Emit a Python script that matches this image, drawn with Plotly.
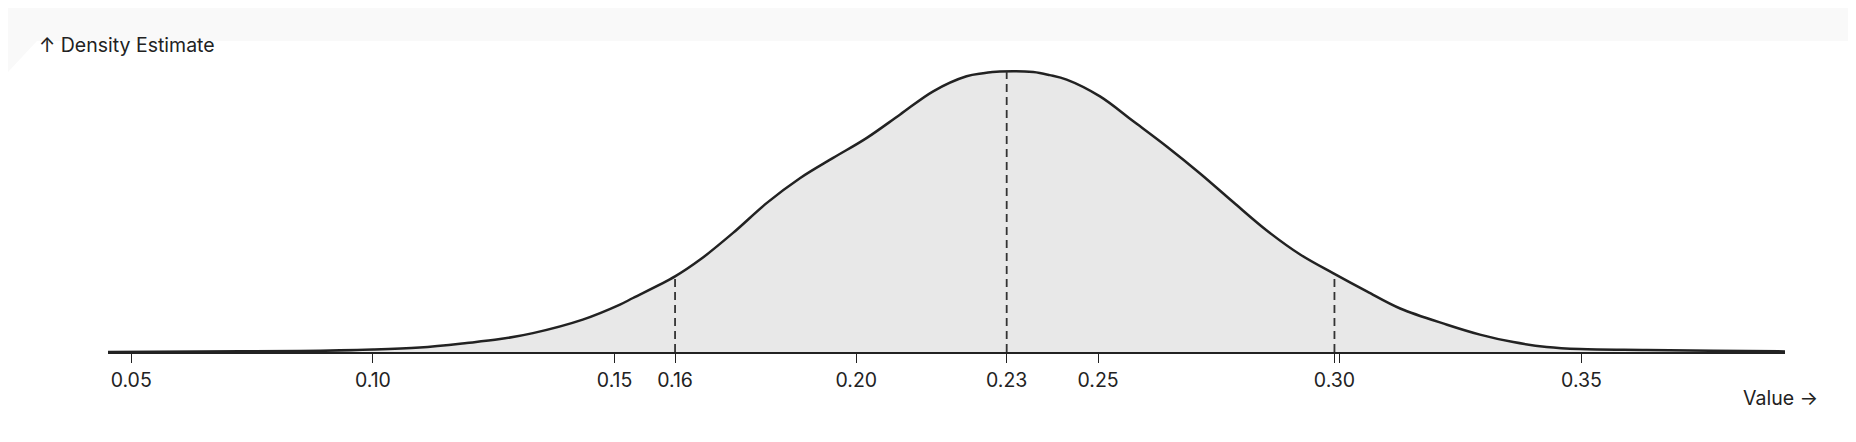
import numpy as np
import plotly.graph_objects as go

# ---- data ----
values = [0.0452, 0.0642, 0.0849, 0.1001, 0.1097, 0.1194, 0.1263, 0.1331, 0.1434, 0.1511,
          0.1538, 0.1625, 0.1677, 0.1745, 0.1815, 0.1884, 0.1952, 0.2021, 0.2090, 0.2159,
          0.2228, 0.2262, 0.2297, 0.2366, 0.2400, 0.2435, 0.2504, 0.2573, 0.2642, 0.2711,
          0.2780, 0.2849, 0.2918, 0.2987, 0.3056, 0.3125, 0.3222, 0.3290, 0.3359, 0.3428,
          0.3497, 0.3635, 0.3773, 0.3921]
density = [0.00, 0.02, 0.03, 0.08, 0.15, 0.30, 0.43, 0.63, 1.08, 1.58,
           1.80, 2.52, 3.08, 3.97, 4.97, 5.80, 6.47, 7.13, 7.91, 8.69,
           9.19, 9.29, 9.35, 9.33, 9.23, 9.08, 8.52, 7.69, 6.85, 5.95,
           4.99, 4.05, 3.25, 2.62, 2.02, 1.45, 0.91, 0.58, 0.33, 0.17,
           0.10, 0.07, 0.04, 0.02]
quantiles = [0.1625, 0.2311, 0.2989]
tick_values = [0.05, 0.10, 0.15, 0.20, 0.25, 0.30, 0.35]
tick_labels = ["0.05", "0.10", "0.15", "0.20", "0.25", "0.30", "0.35"]
y_label = "↑ Density Estimate"
x_label = "Value →"

# ---- layout geometry (page has an 8px body margin) ----
OFF = 8
W, H = 1856 - OFF, 442 - OFF
ML, MR, MT, MB = 100, 71, 52, 90
PW, PH = W - ML - MR, H - MT - MB
X_RANGE = [values[0], values[-1]]
Y_RANGE = [0, PH / 30.0]

def px_x(sx):
    return (sx - OFF - ML) / PW

def px_y(sy):
    return (H - MB - (sy - OFF)) / PH

INK = "#222222"
FONT = "Inter"

fig = go.Figure()

# area + line
fig.add_trace(go.Scatter(
    x=values, y=density, mode="lines",
    line=dict(color=INK, width=2.5, shape="spline", smoothing=1.0),
    fill="tozeroy", fillcolor="#e8e8e8", hoverinfo="skip", showlegend=False,
))

# quantile rules (height from the density curve)
q_heights = np.interp(quantiles, values, density)
for q, h in zip(quantiles, q_heights):
    fig.add_trace(go.Scatter(
        x=[q, q], y=[0, h], mode="lines",
        line=dict(color="#333333", width=1.8, dash="8px,5px"),
        hoverinfo="skip", showlegend=False,
    ))

# ticks: regular + quantile ticks
q_labels = [f"{q:.2f}" for q in quantiles]
all_vals = list(tick_values) + list(quantiles)
all_text = [("" if lab in q_labels else lab) for lab in tick_labels] + q_labels

fig.update_layout(
    width=W, height=H,
    margin=dict(l=ML, r=MR, t=MT, b=MB),
    paper_bgcolor="white", plot_bgcolor="white",
    font=dict(family=FONT, size=19, color=INK),
    xaxis=dict(
        range=X_RANGE, tickvals=all_vals, ticktext=all_text,
        ticks="outside", ticklen=9, tickwidth=1.3, tickcolor=INK,
        showline=True, linecolor=INK, linewidth=1.5,
        showgrid=False, zeroline=False, fixedrange=True,
        tickfont=dict(family=FONT, size=19.5, color=INK),
        ticklabelstandoff=1,
    ),
    yaxis=dict(range=Y_RANGE, visible=False, fixedrange=True),
    shapes=[
        dict(type="rect", xref="paper", yref="paper",
             x0=px_x(0), x1=px_x(1856), y0=px_y(41), y1=px_y(OFF),
             fillcolor="#f9f9f9", line=dict(width=0), layer="below"),
        dict(type="path", xref="paper", yref="paper",
             path=f"M {px_x(OFF)},{px_y(41)} L {px_x(37)},{px_y(41)} L {px_x(OFF)},{px_y(72)} Z",
             fillcolor="#f9f9f9", line=dict(width=0), layer="below"),
    ],
    annotations=[
        dict(text=y_label, xref="paper", yref="paper",
             x=px_x(37), y=px_y(45), xanchor="left", yanchor="middle",
             showarrow=False, font=dict(family=FONT, size=19.5, color=INK)),
        dict(text=x_label, xref="paper", yref="paper",
             x=px_x(1820), y=px_y(398), xanchor="right", yanchor="middle",
             showarrow=False, font=dict(family=FONT, size=19.5, color=INK)),
    ],
)

fig.write_html("out.html")
